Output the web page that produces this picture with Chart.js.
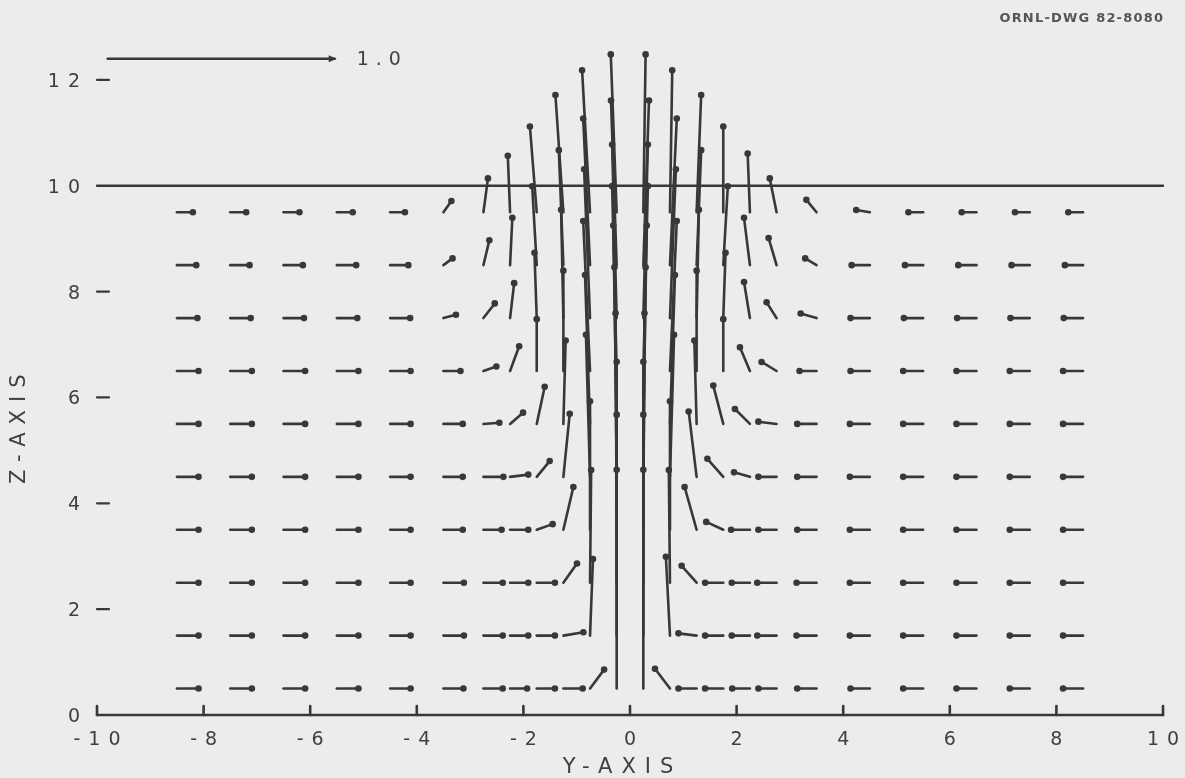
<!DOCTYPE html>
<html>
<head>
<meta charset="utf-8">
<script src="https://cdn.jsdelivr.net/npm/chart.js@4/dist/chart.umd.min.js"></script>
<style>
  html, body { margin: 0; padding: 0; background: #ececea; }
  #wrap { width: 1185px; height: 778px; }
</style>
</head>
<body>
<div id="wrap"><canvas id="field" width="1185" height="778"></canvas></div>
<script>
// grid of the velocity field (cell centres, finer near the jet)
const colY = [-8.5, -7.5, -6.5, -5.5, -4.5, -3.5, -2.75, -2.25, -1.75, -1.25, -0.75, -0.25,
              0.25, 0.75, 1.25, 1.75, 2.25, 2.75, 3.5, 4.5, 5.5, 6.5, 7.5, 8.5];
const rowZ = [0.5, 1.5, 2.5, 3.5, 4.5, 5.5, 6.5, 7.5, 8.5, 9.5];

// horizontal velocity, one row per rowZ
const uVel = [
  [0.095,0.095,0.095,0.095,0.09,0.088,0.085,0.075,0.08,0.085,0.062,0.0, 0.0,-0.066,-0.08,-0.08,-0.078,-0.08,-0.085,-0.085,-0.088,-0.088,-0.088,-0.088],
  [0.095,0.095,0.095,0.095,0.09,0.09,0.085,0.08,0.08,0.088,0.013,0.0, 0.0,-0.018,-0.08,-0.08,-0.08,-0.085,-0.088,-0.088,-0.088,-0.088,-0.088,-0.088],
  [0.095,0.095,0.095,0.095,0.09,0.09,0.085,0.08,0.08,0.06,0.005,0.0, 0.0,-0.005,-0.066,-0.08,-0.08,-0.085,-0.088,-0.088,-0.088,-0.088,-0.088,-0.088],
  [0.095,0.095,0.095,0.095,0.09,0.085,0.08,0.08,0.07,0.044,0.0,-0.005, 0.005,0.0,-0.053,-0.075,-0.083,-0.08,-0.085,-0.088,-0.088,-0.088,-0.088,-0.088],
  [0.095,0.095,0.095,0.095,0.09,0.085,0.088,0.08,0.057,0.028,-0.018,-0.01, 0.01,0.018,-0.035,-0.07,-0.07,-0.08,-0.085,-0.088,-0.088,-0.088,-0.088,-0.088],
  [0.095,0.095,0.095,0.095,0.09,0.085,0.07,0.057,0.035,0.01,-0.022,-0.015, 0.015,0.022,-0.01,-0.044,-0.066,-0.08,-0.085,-0.088,-0.088,-0.088,-0.088,-0.088],
  [0.095,0.095,0.095,0.095,0.09,0.075,0.057,0.04,0.0,0.0,-0.03,-0.02, 0.02,0.03,0.0,0.0,-0.044,-0.066,-0.075,-0.085,-0.088,-0.088,-0.088,-0.088],
  [0.09,0.09,0.09,0.09,0.088,0.055,0.05,0.018,-0.01,-0.01,-0.026,-0.02, 0.02,0.026,0.01,0.01,-0.026,-0.044,-0.07,-0.085,-0.085,-0.085,-0.085,-0.085],
  [0.085,0.085,0.085,0.085,0.08,0.04,0.026,0.01,-0.02,-0.02,-0.03,-0.025, 0.025,0.03,0.02,0.02,-0.026,-0.035,-0.05,-0.08,-0.08,-0.08,-0.08,-0.08],
  [0.07,0.07,0.07,0.07,0.065,0.035,0.02,-0.01,-0.03,-0.035,-0.035,-0.026, 0.01,0.01,0.02,0.0,-0.01,-0.03,-0.045,-0.06,-0.065,-0.065,-0.065,-0.065]
];

// vertical velocity, one row per rowZ
const wVel = [
  [0,0,0,0,0,0,0,0,0,0,0.084,0.97, 0.97,0.088,0,0,0,0,0,0,0,0,0,0],
  [0,0,0,0,0,0,0,0,0,0.015,0.34,0.98, 0.98,0.35,0.01,0,0,0,0,0,0,0,0,0],
  [0,0,0,0,0,0,0,0,0,0.085,0.50,0.98, 0.98,0.50,0.075,0,0,0,0,0,0,0,0,0],
  [0,0,0,0,0,0,0,0,0.025,0.19,0.57,0.96, 0.96,0.57,0.19,0.035,0,0,0,0,0,0,0,0],
  [0,0,0,0,0,0,0,0.01,0.07,0.28,0.63,0.93, 0.93,0.63,0.29,0.08,0.02,0,0,0,0,0,0,0],
  [0,0,0,0,0,0,0.005,0.05,0.165,0.37,0.66,0.88, 0.88,0.66,0.37,0.17,0.066,0.01,0,0,0,0,0,0],
  [0,0,0,0,0,0,0.02,0.11,0.23,0.445,0.665,0.82, 0.82,0.665,0.445,0.23,0.105,0.04,0,0,0,0,0,0],
  [0,0,0,0,0,0.015,0.065,0.155,0.29,0.48,0.66,0.77, 0.77,0.66,0.48,0.29,0.16,0.07,0.02,0,0,0,0,0],
  [0,0,0,0,0,0.03,0.11,0.21,0.35,0.51,0.65,0.73, 0.73,0.65,0.51,0.35,0.21,0.12,0.03,0,0,0,0,0],
  [0,0,0,0,0,0.05,0.15,0.25,0.38,0.52,0.63,0.70, 0.70,0.63,0.52,0.38,0.26,0.15,0.055,0.01,0,0,0,0]
];

const xTicks = [-10, -8, -6, -4, -2, 0, 2, 4, 6, 8, 10];
const zTicks = [0, 2, 4, 6, 8, 10, 12];
const refVel = 1.0;
const surfaceZ = 10;

const INK = '#383838';
const TEXT = '#404040';
const ARROW_SCALE = 4.26;   // axis units drawn per unit of velocity

function spacedText(ctx, txt, x, y, spacing, align) {
  ctx.letterSpacing = spacing + 'px';
  var w = ctx.measureText(txt).width - spacing;
  var x0 = x;
  if (align === 'center') x0 = x - w / 2;
  else if (align === 'right') x0 = x - w;
  ctx.textAlign = 'left';
  ctx.fillText(txt, x0, y);
  ctx.letterSpacing = '0px';
}

function arrow(ctx, x0, y0, x1, y1) {
  ctx.beginPath();
  ctx.moveTo(x0, y0);
  ctx.lineTo(x1, y1);
  ctx.stroke();
  ctx.beginPath();
  ctx.arc(x1, y1, 3.3, 0, Math.PI * 2);
  ctx.fill();
}

const vectorPlugin = {
  id: 'vectorPlugin',
  beforeDraw(chart) {
    var ctx = chart.ctx;
    ctx.save();
    ctx.fillStyle = '#ececea';
    ctx.fillRect(0, 0, chart.width, chart.height);
    ctx.restore();
  },
  afterDatasetsDraw(chart) {
    var ctx = chart.ctx;
    var xs = chart.scales.x, ys = chart.scales.y;
    ctx.save();
    ctx.strokeStyle = INK;
    ctx.fillStyle = INK;
    ctx.lineCap = 'round';

    // bottom axis with upward ticks
    var yb = ys.getPixelForValue(0);
    ctx.lineWidth = 2.6;
    ctx.beginPath();
    ctx.moveTo(xs.getPixelForValue(-10), yb);
    ctx.lineTo(xs.getPixelForValue(10), yb);
    ctx.stroke();
    xTicks.forEach(function (t) {
      var px = xs.getPixelForValue(t);
      ctx.beginPath();
      ctx.moveTo(px, yb);
      ctx.lineTo(px, yb - 9);
      ctx.stroke();
    });

    // free surface line
    var ysurf = ys.getPixelForValue(surfaceZ);
    ctx.lineWidth = 2.4;
    ctx.beginPath();
    ctx.moveTo(xs.getPixelForValue(-10), ysurf);
    ctx.lineTo(xs.getPixelForValue(10), ysurf);
    ctx.stroke();

    // left tick dashes
    ctx.lineWidth = 2.2;
    zTicks.forEach(function (t) {
      if (t === 0 || t === surfaceZ) return;
      var py = ys.getPixelForValue(t);
      ctx.beginPath();
      ctx.moveTo(xs.getPixelForValue(-10), py);
      ctx.lineTo(xs.getPixelForValue(-10) + 12, py);
      ctx.stroke();
    });

    // velocity vectors
    ctx.lineWidth = 2.6;
    for (var i = 0; i < rowZ.length; i++) {
      for (var j = 0; j < colY.length; j++) {
        var u = uVel[i][j], w = wVel[i][j];
        arrow(ctx,
          xs.getPixelForValue(colY[j]), ys.getPixelForValue(rowZ[i]),
          xs.getPixelForValue(colY[j] + u * ARROW_SCALE), ys.getPixelForValue(rowZ[i] + w * ARROW_SCALE));
      }
    }

    // reference vector
    ctx.lineWidth = 2.5;
    var rx = -9.8, rz = 12.4;
    var hx = xs.getPixelForValue(rx + refVel * ARROW_SCALE), hy = ys.getPixelForValue(rz);
    ctx.beginPath();
    ctx.moveTo(xs.getPixelForValue(rx), hy);
    ctx.lineTo(hx, hy);
    ctx.stroke();
    ctx.beginPath();
    ctx.moveTo(hx + 2, hy);
    ctx.lineTo(hx - 6, hy - 3.5);
    ctx.lineTo(hx - 6, hy + 3.5);
    ctx.closePath();
    ctx.fill();

    // texts
    ctx.fillStyle = TEXT;
    ctx.textBaseline = 'middle';
    ctx.font = '19px "DejaVu Sans"';
    spacedText(ctx, refVel.toFixed(1), hx + 22, hy + 1, 7, 'left');

    xTicks.forEach(function (t) {
      spacedText(ctx, String(t), xs.getPixelForValue(t), yb + 25, 8, 'center');
    });
    zTicks.forEach(function (t) {
      spacedText(ctx, String(t), xs.getPixelForValue(-10) - 17, ys.getPixelForValue(t) + 2, 8, 'right');
    });

    ctx.font = '21px "DejaVu Sans"';
    spacedText(ctx, 'Y-AXIS', xs.getPixelForValue(0) - 12, yb + 53, 9, 'center');

    ctx.save();
    ctx.translate(20, ys.getPixelForValue(5.4));
    ctx.rotate(-Math.PI / 2);
    spacedText(ctx, 'Z-AXIS', 0, 0, 8, 'center');
    ctx.restore();

    ctx.font = 'bold 13px "DejaVu Sans"';
    ctx.fillStyle = '#555';
    spacedText(ctx, 'ORNL-DWG 82-8080', 1163, 19, 1.2, 'right');

    ctx.restore();
  }
};

var points = [];
rowZ.forEach(function (z) {
  colY.forEach(function (y) { points.push({ x: y, y: z }); });
});

new Chart(document.getElementById('field'), {
  type: 'scatter',
  data: {
    datasets: [{
      label: 'grid',
      data: points,
      pointRadius: 0,
      pointHoverRadius: 0
    }]
  },
  options: {
    responsive: false,
    animation: false,
    devicePixelRatio: 1,
    events: [],
    layout: { padding: { left: 97, right: 22, top: 27, bottom: 63 } },
    plugins: { legend: { display: false }, tooltip: { enabled: false } },
    scales: {
      x: { type: 'linear', min: -10, max: 10, display: false },
      y: { type: 'linear', min: 0, max: 13, display: false }
    }
  },
  plugins: [vectorPlugin]
});
</script>
</body>
</html>
